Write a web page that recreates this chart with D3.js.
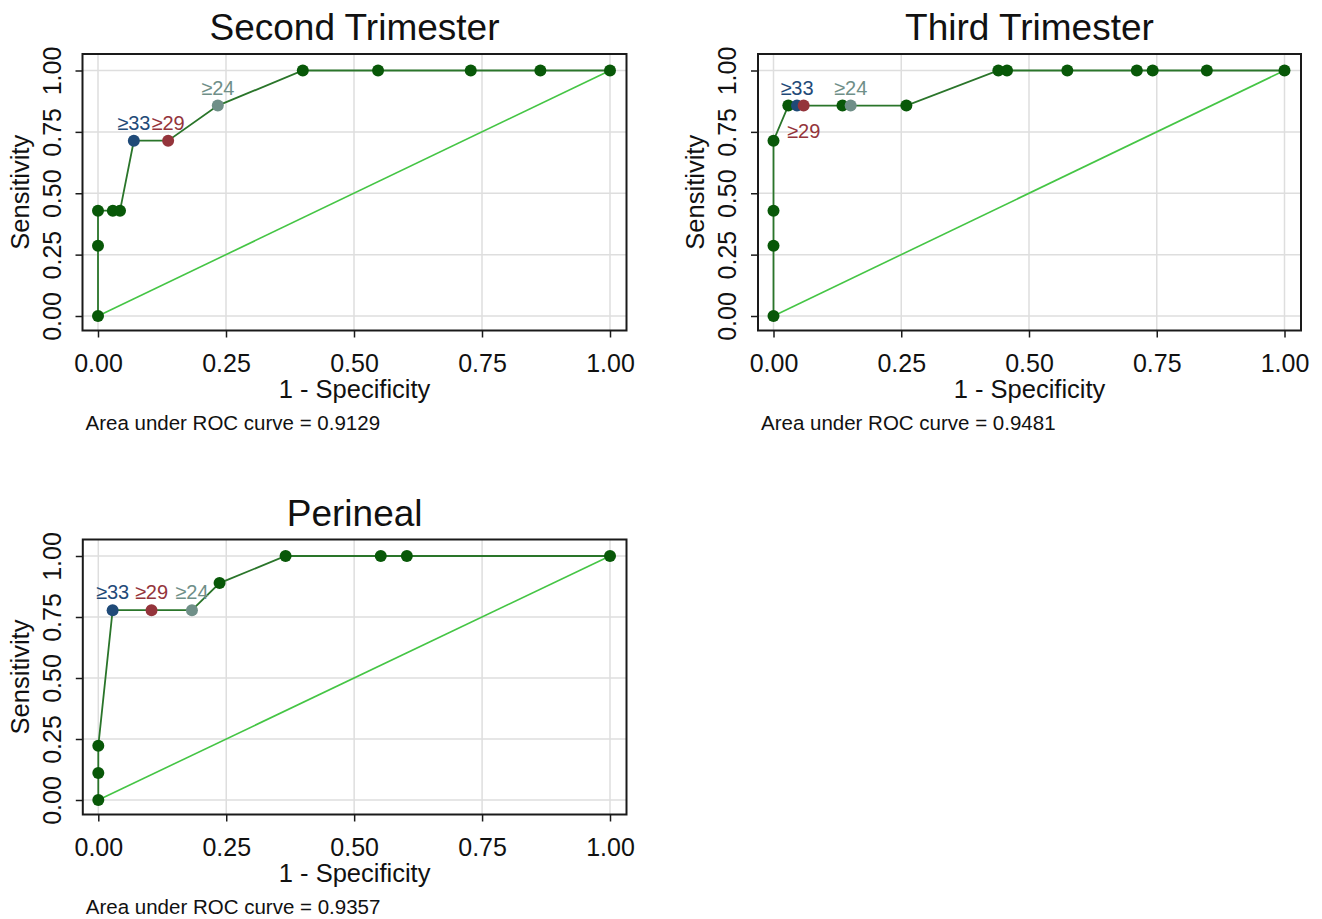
<!DOCTYPE html>
<html>
<head>
<meta charset="utf-8">
<script src="https://cdn.jsdelivr.net/npm/d3@7/dist/d3.min.js"></script>
<style>
  html, body { margin: 0; padding: 0; background: #fff; }
  svg { display: block; font-family: "Liberation Sans", Arial, sans-serif; }
</style>
</head>
<body>
<svg id="chart" width="1322" height="919"></svg>
<script>
// ---------------- data ----------------
const panelTitles = ["Second Trimester", "Third Trimester", "Perineal"];
const aucValues = [0.9129, 0.9481, 0.9357];
const tickValues = [0, 0.25, 0.5, 0.75, 1];
const tickLabels = ["0.00", "0.25", "0.50", "0.75", "1.00"];
const xAxisTitle = "1 - Specificity";
const yAxisTitle = "Sensitivity";

const secondFPR  = [0, 0, 0, 0.029, 0.043, 0.070, 0.137, 0.234, 0.400, 0.547, 0.728, 0.864, 1];
const secondSens = [0, 0.286, 0.429, 0.429, 0.429, 0.714, 0.714, 0.857, 1, 1, 1, 1, 1];

const thirdFPR  = [0, 0, 0, 0, 0.029, 0.046, 0.059, 0.135, 0.151, 0.260, 0.440, 0.457, 0.575, 0.711, 0.742, 0.848, 1];
const thirdSens = [0, 0.286, 0.429, 0.714, 0.857, 0.857, 0.857, 0.857, 0.857, 0.857, 1, 1, 1, 1, 1, 1, 1];

const perinealFPR  = [0, 0, 0, 0.028, 0.104, 0.183, 0.237, 0.366, 0.552, 0.603, 1];
const perinealSens = [0, 0.111, 0.222, 0.778, 0.778, 0.778, 0.889, 1, 1, 1, 1];

const cutoffLabels = ["≥33", "≥29", "≥24"];
const cutoffIndex = [[5, 6, 7], [5, 6, 8], [3, 4, 5]];

// ---------------- style / layout ----------------
const cutoffColors = ["#1f4a78", "#94343b", "#6f8f88"];
const markerColor = "#085808";
const curveColor = "#2a752a";
const refColor = "#45c545";
const gridColor = "#dedede";

const layouts = [
  { xr: [98, 610],       yr: [316, 70.5] },
  { xr: [773.5, 1284.5], yr: [316, 70.5] },
  { xr: [98.3, 610],     yr: [800, 556] }
];
// label vertical offsets (baseline relative to point) per panel/cutoff
const labelDy = [[-11, -11, -11], [-11, 32, -11], [-11, -11, -11]];

const series = [
  { fpr: secondFPR, sens: secondSens },
  { fpr: thirdFPR, sens: thirdSens },
  { fpr: perinealFPR, sens: perinealSens }
];

const svg = d3.select("#chart");

series.forEach((s, p) => {
  const L = layouts[p];
  const x = d3.scaleLinear().domain([0, 1]).range(L.xr);
  const y = d3.scaleLinear().domain([0, 1]).range(L.yr);
  const bl = L.xr[0] - 15.5, br = L.xr[1] + 16.5;
  const bt = L.yr[1] - 16.5, bb = L.yr[0] + 14.5;
  const g = svg.append("g");

  // grid
  g.append("g").selectAll("line").data(tickValues).join("line")
    .attr("x1", d => x(d)).attr("x2", d => x(d))
    .attr("y1", bt).attr("y2", bb)
    .attr("stroke", gridColor).attr("stroke-width", 1.5);
  g.append("g").selectAll("line").data(tickValues).join("line")
    .attr("y1", d => y(d)).attr("y2", d => y(d))
    .attr("x1", bl).attr("x2", br)
    .attr("stroke", gridColor).attr("stroke-width", 1.5);

  // reference diagonal
  g.append("line")
    .attr("x1", x(0)).attr("y1", y(0)).attr("x2", x(1)).attr("y2", y(1))
    .attr("stroke", refColor).attr("stroke-width", 1.6);

  // ROC curve
  const pts = s.fpr.map((f, i) => ({ f, se: s.sens[i], i }));
  g.append("path").datum(pts)
    .attr("d", d3.line().x(d => x(d.f)).y(d => y(d.se)))
    .attr("fill", "none").attr("stroke", curveColor).attr("stroke-width", 1.8);

  // markers
  const cut = cutoffIndex[p];
  g.append("g").selectAll("circle").data(pts).join("circle")
    .attr("cx", d => x(d.f)).attr("cy", d => y(d.se)).attr("r", 6)
    .attr("fill", d => { const k = cut.indexOf(d.i); return k >= 0 ? cutoffColors[k] : markerColor; });

  // cutoff labels
  cut.forEach((idx, k) => {
    g.append("text")
      .attr("x", x(s.fpr[idx])).attr("y", y(s.sens[idx]) + labelDy[p][k])
      .attr("text-anchor", "middle").attr("font-size", 20)
      .attr("fill", cutoffColors[k]).text(cutoffLabels[k]);
  });

  // box
  g.append("rect").attr("x", bl).attr("y", bt).attr("width", br - bl).attr("height", bb - bt)
    .attr("fill", "none").attr("stroke", "#1a1a1a").attr("stroke-width", 2);

  // axes
  const xAxis = d3.axisBottom(x).tickValues(tickValues).tickFormat((d, i) => tickLabels[i]).tickSize(7).tickSizeOuter(0);
  const gx = g.append("g").attr("transform", `translate(0,${bb})`).call(xAxis);
  gx.select(".domain").remove();
  gx.selectAll(".tick line").attr("stroke", "#1a1a1a").attr("stroke-width", 1.5);
  gx.selectAll(".tick text").attr("y", 41).attr("dy", 0).attr("font-size", 25)
    .attr("font-family", "Liberation Sans, Arial, sans-serif").attr("fill", "#111");

  const yAxis = d3.axisLeft(y).tickValues(tickValues).tickFormat((d, i) => tickLabels[i]).tickSize(7).tickSizeOuter(0);
  const gy = g.append("g").attr("transform", `translate(${bl},0)`).call(yAxis);
  gy.select(".domain").remove();
  gy.selectAll(".tick line").attr("stroke", "#1a1a1a").attr("stroke-width", 1.5);
  gy.selectAll(".tick text").attr("x", 0).attr("dy", 0)
    .attr("transform", "translate(-22,0) rotate(-90)")
    .attr("text-anchor", "middle").attr("font-size", 25)
    .attr("font-family", "Liberation Sans, Arial, sans-serif").attr("fill", "#111");

  // titles
  const cx = (bl + br) / 2;
  g.append("text").attr("x", cx).attr("y", bt - 14).attr("text-anchor", "middle")
    .attr("font-size", 37).attr("fill", "#111").text(panelTitles[p]);
  g.append("text").attr("x", cx).attr("y", bb + 67).attr("text-anchor", "middle")
    .attr("font-size", 25.5).attr("fill", "#111").text(xAxisTitle);
  g.append("text").attr("transform", `translate(${bl - 54},${(bt + bb) / 2}) rotate(-90)`)
    .attr("text-anchor", "middle").attr("font-size", 25.5).attr("fill", "#111").text(yAxisTitle);
  g.append("text").attr("x", bl + 3).attr("y", bb + 99)
    .attr("font-size", 20.5).attr("fill", "#111")
    .text("Area under ROC curve = " + aucValues[p].toFixed(4));
});
</script>
</body>
</html>
